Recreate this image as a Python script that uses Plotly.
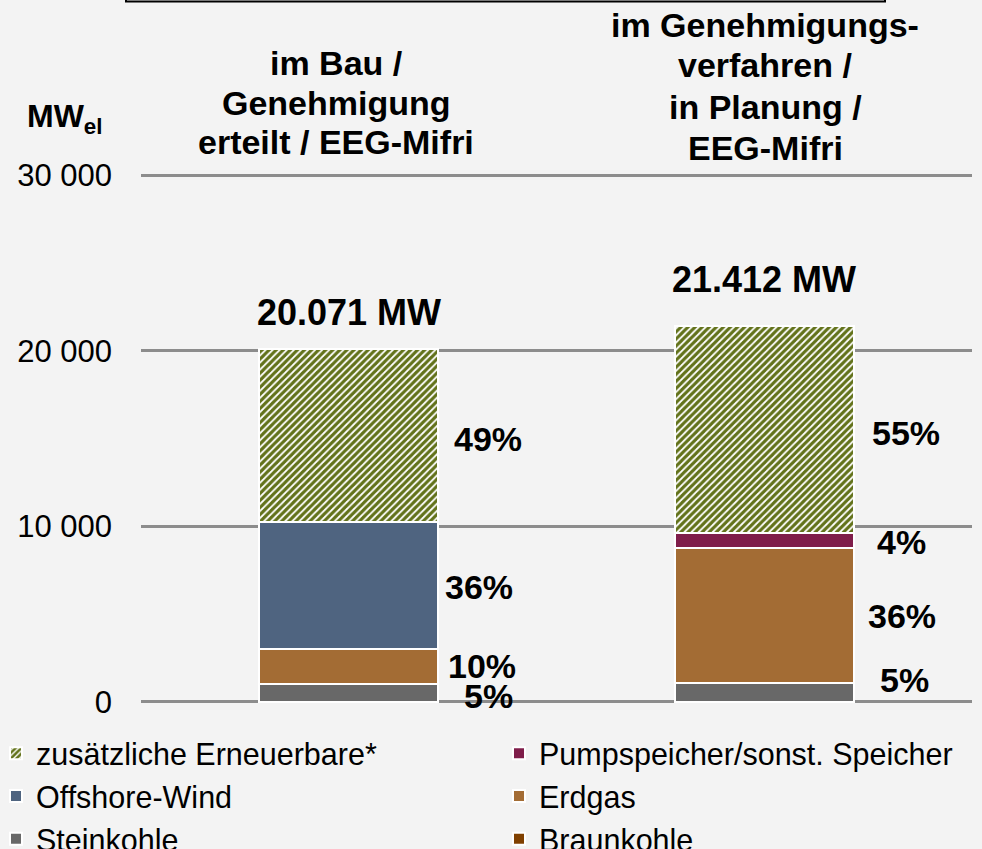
import plotly.graph_objects as go

# ---------------- data ----------------
categories = ["im Bau / Genehmigung erteilt / EEG-Mifri",
              "im Genehmigungsverfahren / in Planung / EEG-Mifri"]
steinkohle = [1004, 1071]
braunkohle = [0, 0]
erdgas = [2007, 7708]
offshore_wind = [7226, 0]
pumpspeicher = [0, 856]
erneuerbare = [9834, 11777]

category_title_lines = [["im Bau /", "Genehmigung", "erteilt / EEG-Mifri"],
                        ["im Genehmigungs-", "verfahren /", "in Planung /", "EEG-Mifri"]]
tick_values = [0, 10000, 20000, 30000]
tick_labels = ["0", "10 000", "20 000", "30 000"]

# ---------------- styling ----------------
FONT = "Arial, 'Liberation Sans', sans-serif"
BG = "#F3F3F3"
GRID = "#8C8C8C"
PLOT_TOP, PLOT_BOTTOM = 174, 703      # pixel rows of the plotting area
PLOT_LEFT, PLOT_RIGHT = 141, 972


def px_to_paper_y(py):
    return (PLOT_BOTTOM - py) / (PLOT_BOTTOM - PLOT_TOP)


def px_to_paper_x(px):
    return (px - PLOT_LEFT) / (PLOT_RIGHT - PLOT_LEFT)


series = [
    # name, values, color, legend, legendrank, pattern
    ("Steinkohle", steinkohle, "#686868", "legend", 3, None),
    ("Braunkohle", braunkohle, "#804000", "legend2", 3, None),
    ("Erdgas", erdgas, "#A36C34", "legend2", 2, None),
    ("Offshore-Wind", offshore_wind, "#4F6480", "legend", 2, None),
    ("Pumpspeicher/sonst. Speicher", pumpspeicher, "#7F1D4A", "legend2", 1, None),
    ("zusätzliche Erneuerbare*", erneuerbare, "#FFFFFF", "legend", 1,
     dict(shape="/", fgcolor="#62721A", fgopacity=1, bgcolor="#FFFFFF", size=5, solidity=0.65)),
]

fig = go.Figure()
for name, vals, color, leg, rank, pattern in series:
    marker = dict(color=color, line=dict(color="#FFFFFF", width=2))
    if pattern:
        marker["pattern"] = pattern
    fig.add_trace(go.Bar(
        x=categories, y=vals, name=name, marker=marker, legend=leg,
        legendrank=rank, width=0.43, hoverinfo="skip",
    ))

# totals above the bars
totals = [sum(v) for v in zip(steinkohle, braunkohle, erdgas, offshore_wind, pumpspeicher, erneuerbare)]
total_shift = [37, 46]
for i, cat in enumerate(categories):
    fig.add_annotation(x=cat, y=totals[i], xref="x", yref="y",
                       text="<b>%s MW</b>" % f"{totals[i]:,}".replace(",", "."),
                       showarrow=False, yanchor="middle", yshift=total_shift[i],
                       font=dict(family=FONT, size=36, color="black"))

# percentage labels next to each segment
label_shift = {
    0: {"zusätzliche Erneuerbare*": (139, -3), "Offshore-Wind": (130, -1),
        "Erdgas": (133, 1), "Steinkohle": (140, -3)},
    1: {"zusätzliche Erneuerbare*": (142, -4), "Pumpspeicher/sonst. Speicher": (137, -2),
        "Erdgas": (138, -1), "Steinkohle": (140, 13)},
}
for i, cat in enumerate(categories):
    base = 0
    for name, vals, color, leg, rank, pattern in series:
        v = vals[i]
        if v > 0 and name in label_shift[i]:
            xs, ys = label_shift[i][name]
            pct = round(100 * v / totals[i])
            fig.add_annotation(x=cat, y=base + v / 2, xref="x", yref="y",
                               text="<b>%d%%</b>" % pct, showarrow=False,
                               xshift=xs, yshift=ys, yanchor="middle",
                               font=dict(family=FONT, size=34, color="black"))
        base += v

# category titles (one annotation per line for tight line spacing)
title_centers_x = [336, 765]
title_lines_y = [[63, 103, 142], [25, 65, 107, 148]]
for lines, cx, ys in zip(category_title_lines, title_centers_x, title_lines_y):
    for line, ly in zip(lines, ys):
        fig.add_annotation(x=px_to_paper_x(cx), y=px_to_paper_y(ly), xref="paper", yref="paper",
                           text="<b>%s</b>" % line, showarrow=False,
                           xanchor="center", yanchor="middle",
                           font=dict(family=FONT, size=34, color="black"))

# unit label
fig.add_annotation(x=px_to_paper_x(25), y=px_to_paper_y(118), xref="paper", yref="paper",
                   text="<b>MW<sub>el</sub></b>", showarrow=False,
                   xanchor="left", yanchor="middle",
                   font=dict(family=FONT, size=32, color="black"))

# partially visible box at the top
fig.add_shape(type="rect", xref="paper", yref="paper",
              x0=px_to_paper_x(126), x1=px_to_paper_x(885),
              y0=px_to_paper_y(1.5), y1=px_to_paper_y(-40),
              line=dict(color="black", width=2), fillcolor="rgba(0,0,0,0)")

legend_common = dict(orientation="v", xref="paper", yref="paper",
                     yanchor="top", xanchor="left", traceorder="normal",
                     font=dict(family=FONT, size=30.5, color="black"),
                     bgcolor="rgba(0,0,0,0)", itemclick=False, itemdoubleclick=False)

fig.update_layout(
    barmode="stack",
    width=982, height=849,
    paper_bgcolor=BG, plot_bgcolor=BG,
    margin=dict(l=PLOT_LEFT, r=982 - PLOT_RIGHT, t=PLOT_TOP, b=849 - PLOT_BOTTOM, autoexpand=False),
    font=dict(family=FONT, size=31, color="black"),
    showlegend=True,
    legend=dict(x=px_to_paper_x(-4), y=px_to_paper_y(727), **legend_common),
    legend2=dict(x=px_to_paper_x(499), y=px_to_paper_y(727), **legend_common),
    xaxis=dict(showticklabels=False, showgrid=False, zeroline=False, showline=False,
               ticks="", range=[-0.5, 1.5]),
    yaxis=dict(range=[-60, 30060], tickvals=tick_values, ticktext=tick_labels,
               showgrid=True, gridcolor=GRID, gridwidth=2.5, zeroline=False,
               showline=False, ticks="", ticklabelstandoff=28,
               tickfont=dict(family=FONT, size=31, color="black")),
)

fig.write_html("out.html", config={"displayModeBar": False},
               post_script="document.body.style.margin='0';document.body.style.overflow='hidden';")
